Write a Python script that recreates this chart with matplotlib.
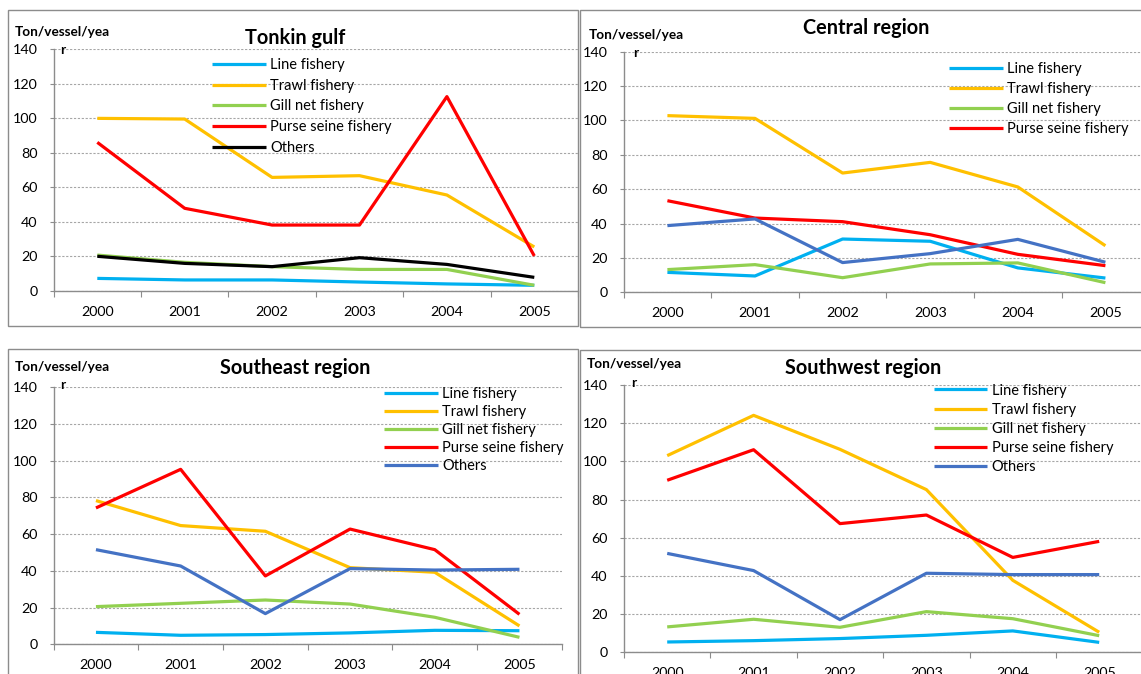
import numpy as np
import matplotlib.pyplot as plt
from matplotlib.patches import Rectangle

plt.rcParams['font.family'] = ['Lato', 'DejaVu Sans']

years = ["2000", "2001", "2002", "2003", "2004", "2005"]
series_names = ["Line fishery", "Trawl fishery", "Gill net fishery",
                "Purse seine fishery", "Others"]

# Ton/vessel/year by region
tonkin_line = [7.3, 6.4, 6.4, 5.2, 4.1, 3.3]
tonkin_trawl = [100.0, 99.6, 65.8, 66.8, 55.6, 25.5]
tonkin_gill = [20.8, 16.6, 14.1, 12.5, 12.5, 3.3]
tonkin_purse = [86.1, 47.9, 38.2, 38.2, 112.6, 20.3]
tonkin_others = [20.1, 16.0, 14.1, 19.3, 15.4, 7.9]

central_line = [11.6, 9.5, 31.0, 29.7, 14.2, 8.3]
central_trawl = [102.8, 101.2, 69.4, 75.6, 61.3, 27.1]
central_gill = [13.2, 16.1, 8.5, 16.5, 17.1, 5.6]
central_purse = [53.3, 43.2, 41.1, 33.5, 22.1, 15.5]
central_others = [38.8, 42.7, 17.3, 22.5, 30.8, 17.5]

southeast_line = [6.5, 4.9, 5.3, 6.2, 7.6, 7.4]
southeast_trawl = [78.2, 64.6, 61.5, 41.7, 39.2, 10.0]
southeast_gill = [20.5, 22.3, 24.1, 21.9, 14.7, 3.8]
southeast_purse = [74.2, 95.2, 37.2, 62.7, 51.5, 16.3]
southeast_others = [51.5, 42.6, 16.7, 41.2, 40.4, 40.8]

southwest_line = [5.4, 6.1, 7.2, 8.9, 11.2, 5.2]
southwest_trawl = [103.0, 124.1, 106.3, 85.2, 37.7, 10.5]
southwest_gill = [13.3, 17.3, 13.1, 21.3, 17.6, 8.7]
southwest_purse = [90.1, 106.1, 67.4, 71.9, 49.7, 58.1]
southwest_others = [51.8, 42.8, 17.1, 41.4, 40.7, 40.7]

W, H = 1141, 674
fig = plt.figure(figsize=(W / 100, H / 100), dpi=100)


def fx(x):
    return x / W


def fy(y):
    return 1 - y / H


gray = '#8c8c8c'

# panel boxes (x0, y0, x1, y1 in pixels from top-left)
for x0, y0, x1, y1 in [(8, 10, 578, 326), (580, 10, 1150, 327),
                       (8, 349, 578, 690), (580, 350, 1150, 690)]:
    fig.patches.append(Rectangle((fx(x0), fy(y1)), fx(x1 - x0), fy(y0) - fy(y1),
                                 transform=fig.transFigure, fill=False,
                                 edgecolor=gray, linewidth=1.0))

colors = ['#00B0F0', '#FFC000', '#92D050', '#FF0000']

panels = [
    dict(title="Tonkin gulf", data=[tonkin_line, tonkin_trawl, tonkin_gill, tonkin_purse, tonkin_others],
         others_color='black', n_legend=5,
         box=(53.6, 49.3, 578.0, 291.0), title_xy=(295, 37.7),
         ylab_xy=(62.8, 31.7), r_xy=(63, 50), leg_xy=(211.6, 58), leg_sp=0.46),
    dict(title="Central region", data=[central_line, central_trawl, central_gill, central_purse, central_others],
         others_color='#4472C4', n_legend=4,
         box=(623.6, 51.7, 1149.2, 292.3), title_xy=(866, 28),
         ylab_xy=(635.9, 35), r_xy=(635.5, 53), leg_xy=(949, 62.5), leg_sp=0.41),
    dict(title="Southeast region", data=[southeast_line, southeast_trawl, southeast_gill, southeast_purse, southeast_others],
         others_color='#4472C4', n_legend=5,
         box=(53.6, 387.0, 561.8, 644.3), title_xy=(295, 367.7),
         ylab_xy=(62.8, 366.7), r_xy=(63, 385), leg_xy=(384, 387.5), leg_sp=0.27),
    dict(title="Southwest region", data=[southwest_line, southwest_trawl, southwest_gill, southwest_purse, southwest_others],
         others_color='#4472C4', n_legend=5,
         box=(624.0, 385.0, 1142.4, 652.3), title_xy=(863.5, 367.7),
         ylab_xy=(634, 364.3), r_xy=(633.7, 382.7), leg_xy=(933.5, 383.5), leg_sp=0.35),
]

x = np.arange(len(years))
for p in panels:
    l, t, r, b = p['box']
    ax = fig.add_axes([fx(l), fy(b), fx(r - l), fy(t) - fy(b)])
    cols = colors + [p['others_color']]
    handles = []
    for vals, c in zip(p['data'], cols):
        h, = ax.plot(x, vals, color=c, linewidth=2.3, solid_capstyle='butt',
                     zorder=3)
        handles.append(h)
    ax.set_xlim(-0.5, len(years) - 0.5)
    ax.set_ylim(0, 140)
    ax.set_yticks(np.arange(0, 141, 20))
    ax.set_xticks(np.arange(-0.5, len(years), 1.0))
    ax.set_xticklabels([])
    ax.set_xticks(x, minor=True)
    ax.set_xticklabels(years, minor=True)
    ax.tick_params(axis='x', which='minor', length=0, pad=10.5, labelsize=10.3)
    ax.tick_params(axis='x', which='major', length=4, color=gray, direction='out')
    ax.tick_params(axis='y', length=3.2, color=gray, direction='out', pad=8.5,
                   labelsize=10.3)
    ax.grid(axis='y', color='#a6a6a6', linestyle=(0, (2, 1.5)), linewidth=0.8)
    ax.set_axisbelow(True)
    for s in ['top', 'right']:
        ax.spines[s].set_visible(False)
    for s in ['left', 'bottom']:
        ax.spines[s].set_color(gray)
        ax.spines[s].set_linewidth(1.0)
    ax.patch.set_visible(False)

    n = p['n_legend']
    ax.legend(handles[:n], series_names[:n], loc='upper left',
              bbox_to_anchor=(fx(p['leg_xy'][0]), fy(p['leg_xy'][1])),
              bbox_transform=fig.transFigure, frameon=False, fontsize=10.5,
              borderpad=0, borderaxespad=0, handlelength=3.7,
              handletextpad=0.3, labelspacing=p['leg_sp'])

    fig.text(fx(p['title_xy'][0]), fy(p['title_xy'][1]), p['title'],
             ha='center', va='center', fontsize=14.3, fontweight='bold')
    fig.text(fx(p['ylab_xy'][0]), fy(p['ylab_xy'][1]), "Ton/vessel/yea",
             ha='center', va='center', fontsize=9.8, fontweight='bold')
    fig.text(fx(p['r_xy'][0]), fy(p['r_xy'][1]), "r",
             ha='center', va='center', fontsize=9.8, fontweight='bold')

fig.savefig('out.png', dpi=100)
